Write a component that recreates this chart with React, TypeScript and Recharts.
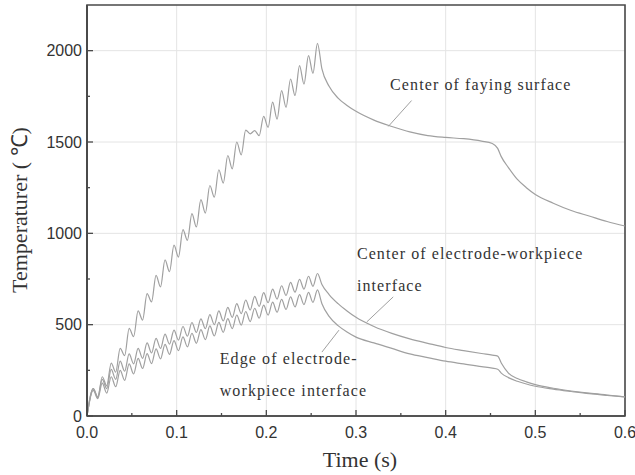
import {
  LineChart,
  Line,
  XAxis,
  YAxis,
  CartesianGrid,
  ReferenceArea,
  ReferenceLine,
  ReferenceDot,
} from 'recharts'

// time (s): heating part alternates peak / trough every 5 ms, then cooling
const heatTime = [
  0, 0.007, 0.012, 0.017, 0.022, 0.027, 0.032, 0.037, 0.042, 0.047, 0.052, 0.057, 0.062,
  0.067, 0.072, 0.077, 0.082, 0.087, 0.092, 0.097, 0.102, 0.107, 0.112, 0.117, 0.122, 0.127,
  0.132, 0.137, 0.142, 0.147, 0.152, 0.157, 0.162, 0.167, 0.172, 0.177, 0.182, 0.187, 0.192,
  0.197, 0.202, 0.207, 0.212, 0.217, 0.222, 0.227, 0.232, 0.237, 0.242, 0.247, 0.252, 0.257,
]
const coolTime = [
  0.262, 0.27, 0.28, 0.29, 0.3, 0.32, 0.34, 0.36, 0.38, 0.4, 0.42, 0.44, 0.452, 0.458, 0.462,
  0.47, 0.48, 0.49, 0.5, 0.52, 0.54, 0.56, 0.58, 0.6,
]

const fayingHeat = [
  0, 150, 100, 215, 165, 290, 240, 370, 330, 480, 435, 575, 525,
  670, 625, 770, 707, 855, 790, 935, 870, 1020, 962, 1108, 1035, 1184,
  1111, 1262, 1198, 1348, 1275, 1426, 1353, 1500, 1430, 1565, 1545, 1562, 1535,
  1640, 1580, 1718, 1625, 1781, 1690, 1845, 1754, 1918, 1817, 1973, 1876, 2040,
]
const fayingCool = [
  1900, 1805, 1740, 1700, 1668, 1620, 1585, 1555, 1535, 1525, 1518, 1505, 1492, 1465, 1420,
  1360, 1295, 1250, 1213, 1165, 1125, 1095, 1065, 1040,
]

const centerHeat = [
  0, 150, 105, 200, 150, 255, 200, 300, 245, 340, 285, 370, 315,
  400, 345, 425, 370, 448, 393, 470, 415, 490, 437, 512, 457, 532,
  478, 555, 500, 575, 520, 595, 540, 615, 560, 635, 580, 655, 600,
  675, 620, 695, 640, 713, 660, 732, 678, 748, 695, 765, 710, 780,
]
const centerCool = [
  720, 665, 615, 575, 540, 490, 452, 422, 398, 375, 358, 342, 333, 328, 290,
  235, 205, 187, 172, 152, 137, 125, 115, 105,
]

const edgeHeat = [
  0, 140, 95, 180, 125, 215, 160, 250, 195, 285, 230, 315, 260,
  342, 287, 368, 313, 392, 337, 413, 358, 433, 378, 453, 398, 473,
  418, 493, 438, 513, 458, 533, 478, 553, 498, 572, 517, 590, 535,
  607, 552, 623, 568, 638, 583, 652, 597, 665, 610, 677, 622, 690,
]
const edgeCool = [
  615, 545, 495, 460, 432, 400, 370, 340, 320, 300, 285, 270, 262, 256, 235,
  210, 190, 175, 163, 147, 134, 122, 113, 105,
]

// major ticks carry labels + grid lines, minor ticks are short marks only
const xMajor = [0, 0.1, 0.2, 0.3, 0.4, 0.5, 0.6]
const xAllTicks = [0, 0.05, 0.1, 0.15, 0.2, 0.25, 0.3, 0.35, 0.4, 0.45, 0.5, 0.55, 0.6]
const yMajor = [0, 500, 1000, 1500, 2000]
const yAllTicks = [0, 250, 500, 750, 1000, 1250, 1500, 1750, 2000]

const time = [...heatTime, ...coolTime]
const faying = [...fayingHeat, ...fayingCool]
const center = [...centerHeat, ...centerCool]
const edge = [...edgeHeat, ...edgeCool]

const data = time.map((t, i) => ({ t, faying: faying[i], center: center[i], edge: edge[i] }))

const AXIS = '#4a4a4a'
const CURVE = '#a0a0a0'
const serif = '"Liberation Serif", "Times New Roman", serif'
const sans = '"Liberation Sans", Arial, sans-serif'
const X_MARGIN = 11
const Y_MARGIN = 5

const isMajorX = (v: number) => xMajor.some((m) => Math.abs(m - v) < 1e-9)
const isMajorY = (v: number) => yMajor.includes(v)

const XTick = (props: any) => {
  const { x, y, payload } = props
  const major = isMajorX(payload.value)
  const axisY = y - X_MARGIN
  return (
    <g>
      <line x1={x} x2={x} y1={axisY} y2={axisY - (major ? 6 : 3)} stroke={AXIS} strokeWidth={1.3} />
      {major && (
        <text x={x} y={y} dy="0.71em" textAnchor="middle" fontSize={16} fontFamily={sans} fill="#333">
          {payload.value.toFixed(1)}
        </text>
      )}
    </g>
  )
}

const YTick = (props: any) => {
  const { x, y, payload } = props
  const major = isMajorY(payload.value)
  const axisX = x + Y_MARGIN
  return (
    <g>
      <line x1={axisX} x2={axisX + (major ? 6 : 3)} y1={y} y2={y} stroke={AXIS} strokeWidth={1.3} />
      {major && (
        <text x={x} y={y} dy="0.355em" textAnchor="end" fontSize={16} fontFamily={sans} fill="#333">
          {payload.value}
        </text>
      )}
    </g>
  )
}

const note = (value: string) => ({
  value,
  position: 'right' as const,
  offset: 0,
  fontSize: 16,
  fontFamily: serif,
  fill: '#333',
  letterSpacing: 1.1,
})

export default function App() {
  return (
    <div style={{ position: 'absolute', left: 0, top: 0, background: '#fff' }}>
      <LineChart width={635} height={475} data={data} margin={{ top: 5, right: 10, left: 0, bottom: 0 }}>
        <CartesianGrid stroke="#e4e4e4" horizontalValues={yMajor} verticalValues={xMajor} />
        <XAxis
          dataKey="t"
          type="number"
          domain={[0, 0.6]}
          ticks={xAllTicks}
          interval={0}
          height={59}
          tickLine={false}
          tickSize={0}
          tickMargin={X_MARGIN}
          axisLine={{ stroke: AXIS, strokeWidth: 1.6 }}
          tick={<XTick />}
        />
        <YAxis
          type="number"
          domain={[0, 2250]}
          ticks={yAllTicks}
          interval={0}
          width={87}
          tickLine={false}
          tickSize={0}
          tickMargin={Y_MARGIN}
          axisLine={{ stroke: AXIS, strokeWidth: 2 }}
          tick={<YTick />}
        />
        <ReferenceArea x1={0} x2={0.6} y1={0} y2={2250} fill="none" fillOpacity={0} stroke={AXIS} strokeWidth={1.6} />

        <Line type="monotone" dataKey="faying" stroke={CURVE} strokeWidth={1.2} dot={false} isAnimationActive={false} />
        <Line type="monotone" dataKey="center" stroke={CURVE} strokeWidth={1.2} dot={false} isAnimationActive={false} />
        <Line type="monotone" dataKey="edge" stroke={CURVE} strokeWidth={1.2} dot={false} isAnimationActive={false} />

        <ReferenceLine segment={[{ x: 0.362, y: 1727 }, { x: 0.336, y: 1585 }]} stroke={CURVE} strokeWidth={1} />
        <ReferenceLine segment={[{ x: 0.3415, y: 652 }, { x: 0.312, y: 515 }]} stroke={CURVE} strokeWidth={1} />
        <ReferenceLine segment={[{ x: 0.281, y: 470 }, { x: 0.262, y: 350 }]} stroke={CURVE} strokeWidth={1} />

        <ReferenceDot x={0.338} y={1814} r={0} fill="none" stroke="none" label={note('Center of faying surface')} />
        <ReferenceDot x={0.301} y={891} r={0} fill="none" stroke="none" label={note('Center of electrode-workpiece')} />
        <ReferenceDot x={0.301} y={716} r={0} fill="none" stroke="none" label={note('interface')} />
        <ReferenceDot x={0.148} y={317} r={0} fill="none" stroke="none" label={note('Edge of electrode-')} />
        <ReferenceDot x={0.148} y={142} r={0} fill="none" stroke="none" label={note('workpiece interface')} />

        <text x={27} y={210} transform="rotate(-90 27 210)" textAnchor="middle" fontSize={22} fontFamily={serif} fill="#333">
          Temperaturer ( ℃)
        </text>
        <text x={360} y={467} textAnchor="middle" fontSize={22} fontFamily={serif} fill="#333">
          Time (s)
        </text>
      </LineChart>
    </div>
  )
}
